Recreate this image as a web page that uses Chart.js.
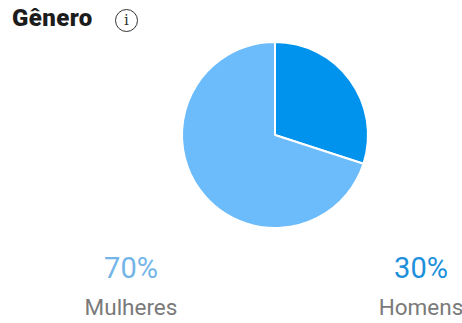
<!DOCTYPE html>
<html>
<head>
<meta charset="utf-8">
<script src="https://cdn.jsdelivr.net/npm/chart.js@4"></script>
<style>
  body { margin: 0; width: 462px; height: 323px; background: #fff; position: relative; overflow: hidden; font-family: Roboto, sans-serif; }
  #title { position: absolute; left: 12px; top: 4px; font-size: 24px; font-weight: 900; color: #1c1c1c; letter-spacing: 0.4px; }
  #info { position: absolute; left: 115px; top: 9px; width: 21px; height: 21px; border: 1.5px solid #333; border-radius: 50%; text-align: center; font: 15px/21px "DejaVu Serif", serif; color: #333; }
  #wrap { position: absolute; left: 175px; top: 35px; width: 200px; height: 200px; }
  .lbl { position: absolute; width: 140px; text-align: center; }
  .pct { font-size: 29px; }
  .name { font-size: 22.5px; color: #7a7a7a; margin-top: 9px; }
</style>
</head>
<body>
<div id="title">Gênero</div>
<div id="info">i</div>
<div id="wrap"><canvas id="pie" width="200" height="200"></canvas></div>
<div id="labels"></div>
<script>
const categories = ['Homens', 'Mulheres'];
const values = [30, 70];
const sliceColors = ['#0093EE', '#6CBBFA'];
const textColors = ['#1E90DB', '#74B5E8'];

new Chart(document.getElementById('pie'), {
    type: 'pie',
    data: {
        labels: categories,
        datasets: [{
            data: values,
            backgroundColor: sliceColors,
            borderColor: '#fff',
            borderWidth: 2
        }]
    },
    options: {
        responsive: false,
        animation: false,
        radius: 93,
        plugins: { legend: { display: false }, tooltip: { enabled: false } }
    }
});

// labels under the pie: Mulheres left, Homens right
const labelX = { 'Mulheres': 61, 'Homens': 351 };
const labelsDiv = document.getElementById('labels');
categories.forEach((c, i) => {
    labelsDiv.innerHTML += `<div class="lbl" style="left:${labelX[c]}px; top:251px">
        <div class="pct" style="color:${textColors[i]}">${values[i]}%</div>
        <div class="name">${c}</div>
    </div>`;
});
</script>
</body>
</html>
